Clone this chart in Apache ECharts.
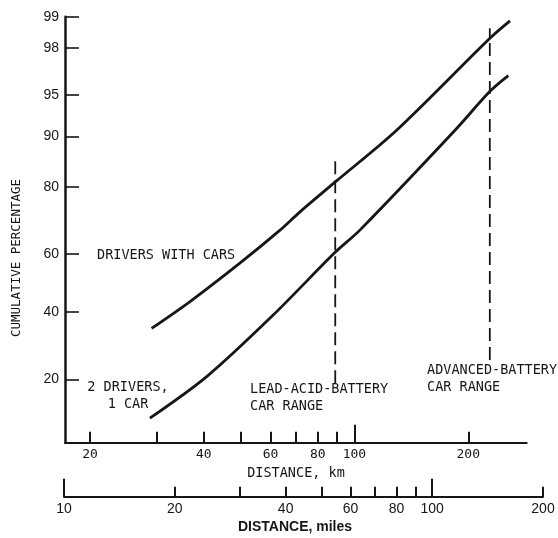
<!DOCTYPE html>
<html><head><meta charset="utf-8">
<script src="https://cdn.jsdelivr.net/npm/echarts@6/dist/echarts.min.js"></script>
<style>html,body{margin:0;padding:0;background:#fff}#c{width:558px;height:538px}</style>
</head><body><div id="c"></div><script>
// ---- data ----
const kmUpper = [29.1, 36.7, 49.8, 63.6, 71.8, 89.2, 129.3, 229.2, 257.8];
const pctUpper = [34.6, 43.5, 56.9, 67.8, 73.3, 81.2, 90.9, 98.4, 98.9];
const kmLower = [28.8, 40.7, 61.0, 88.8, 103.4, 184.5, 228.2, 255.2];
const pctLower = [11.9, 20.7, 39.0, 60.5, 67.8, 90.9, 95.3, 96.5];
const rangeKm = [89, 228];            // lead-acid, advanced battery car range
const rangeTopPct = [85.9, 98.7];
const rangeBottomPct = [19.1, 25.1];
const yTicks = [20, 40, 60, 80, 90, 95, 98, 99];
const kmTicks = [20, 30, 40, 50, 60, 70, 80, 90, 100, 200];
const kmLabels = [20, 40, 60, 80, 100, 200];
const kmMajor = [100];
const mileTicks = [10, 20, 30, 40, 50, 60, 70, 80, 90, 100, 200];
const mileLabels = [10, 20, 40, 60, 80, 100, 200];
const mileMajor = [10, 100];
const kmRange = [17.18, 285.4];
const mileRange = [10, 200];
const pctRange = [8.16, 99];

// ---- scales ----
function probit(p){
 const a=[-3.969683028665376e+01,2.209460984245205e+02,-2.759285104469687e+02,1.383577518672690e+02,-3.066479806614716e+01,2.506628277459239e+00];
 const b=[-5.447609879822406e+01,1.615858368580409e+02,-1.556989798598866e+02,6.680131188771972e+01,-1.328068155288572e+01];
 const c=[-7.784894002430293e-03,-3.223964580411365e-01,-2.400758277161838e+00,-2.549732539343734e+00,4.374664141464968e+00,2.938163982698783e+00];
 const d=[7.784695709041462e-03,3.224671290700398e-01,2.445134137142996e+00,3.754408661907416e+00];
 const pl=0.02425, ph=1-pl; let q,r;
 if(p<pl){q=Math.sqrt(-2*Math.log(p));return (((((c[0]*q+c[1])*q+c[2])*q+c[3])*q+c[4])*q+c[5])/((((d[0]*q+d[1])*q+d[2])*q+d[3])*q+1);}
 if(p>ph){q=Math.sqrt(-2*Math.log(1-p));return -(((((c[0]*q+c[1])*q+c[2])*q+c[3])*q+c[4])*q+c[5])/((((d[0]*q+d[1])*q+d[2])*q+d[3])*q+1);}
 q=p-0.5;r=q*q;return (((((a[0]*r+a[1])*r+a[2])*r+a[3])*r+a[4])*r+a[5])*q/(((((b[0]*r+b[1])*r+b[2])*r+b[3])*r+b[4])*r+1);
}
const Y = p => probit(p/100);
const L = v => Math.log10(v);
const yTickZ = yTicks.map(Y);
const pair = (xs, ps) => xs.map((x,i)=>[L(x), Y(ps[i])]);

const INK = '#161616';
const monoFont = '"DejaVu Sans Mono", "Liberation Mono", monospace';
const sansFont = '"Liberation Sans", Arial, sans-serif';

const chart = echarts.init(document.getElementById('c'), null, {renderer:'canvas'});
const ann = (text, x, y, align) => ({type:'text', x, y, style:{text, font:'13.5px '+monoFont, fill:INK, align:align||'left', textAlign:align||'left', verticalAlign:'middle', textVerticalAlign:'middle', lineHeight:17}});

chart.setOption({
 animation:false,
 backgroundColor:'#fff',
 grid:[
  {left:65, right:31.3, top:16.7, bottom:95.3},
  {left:64, right:15, top:486, bottom:41.3}
 ],
 xAxis:[
  {type:'value', gridIndex:0, min:L(kmRange[0]), max:L(kmRange[1]), position:'bottom',
   splitLine:{show:false},
   axisLine:{show:true, onZero:false, lineStyle:{color:INK, width:2}},
   axisTick:{show:true, inside:true, length:11, customValues:kmTicks.map(L), lineStyle:{color:INK, width:2}},
   axisLabel:{show:true, customValues:kmLabels.map(L), margin:5, color:INK, fontFamily:monoFont, fontSize:13,
     formatter:v=>String(Math.round(Math.pow(10,v)))}},
  {type:'value', gridIndex:0, min:L(kmRange[0]), max:L(kmRange[1]), position:'bottom',
   splitLine:{show:false}, axisLine:{show:false, onZero:false},
   axisTick:{show:true, inside:true, length:18, customValues:kmMajor.map(L), lineStyle:{color:INK, width:2}},
   axisLabel:{show:false}},
  {type:'value', gridIndex:1, min:L(mileRange[0]), max:L(mileRange[1]), position:'bottom',
   splitLine:{show:false},
   axisLine:{show:true, onZero:false, lineStyle:{color:INK, width:2}},
   axisTick:{show:true, inside:true, length:10, customValues:mileTicks.map(L), lineStyle:{color:INK, width:2}},
   axisLabel:{show:true, customValues:mileLabels.map(L), margin:5, color:INK, fontFamily:sansFont, fontSize:14,
     formatter:v=>String(Math.round(Math.pow(10,v)))}},
  {type:'value', gridIndex:1, min:L(mileRange[0]), max:L(mileRange[1]), position:'bottom',
   splitLine:{show:false}, axisLine:{show:false, onZero:false},
   axisTick:{show:true, inside:true, length:18, customValues:mileMajor.map(L), lineStyle:{color:INK, width:2}},
   axisLabel:{show:false}}
 ],
 yAxis:[
  {type:'value', gridIndex:0, min:Y(pctRange[0]), max:Y(pctRange[1]),
   splitLine:{show:false},
   axisLine:{show:true, onZero:false, lineStyle:{color:INK, width:2.5}},
   axisTick:{show:true, inside:true, length:14, customValues:yTickZ, lineStyle:{color:INK, width:1.6}},
   axisLabel:{show:true, customValues:yTickZ, margin:6, color:INK, fontFamily:sansFont, fontSize:14,
     formatter:v=>{let bi=0,bd=1e9; yTickZ.forEach((z,i)=>{const d=Math.abs(z-v); if(d<bd){bd=d;bi=i;}}); return String(yTicks[bi]);}}},
  {type:'value', gridIndex:1, min:0, max:1, show:false}
 ],
 series:[
  {type:'line', name:'DRIVERS WITH CARS', xAxisIndex:0, yAxisIndex:0, data:pair(kmUpper,pctUpper), smooth:0.3, showSymbol:false, symbol:'none', lineStyle:{color:INK, width:2.8}},
  {type:'line', name:'2 DRIVERS, 1 CAR', xAxisIndex:0, yAxisIndex:0, data:pair(kmLower,pctLower), smooth:0.3, showSymbol:false, symbol:'none', lineStyle:{color:INK, width:2.8}},
  ...rangeKm.map((k,i)=>({type:'line', xAxisIndex:0, yAxisIndex:0, symbol:'none', showSymbol:false,
     data:[[L(k), Y(rangeBottomPct[i])],[L(k), Y(rangeTopPct[i])]],
     lineStyle:{color:INK, width:1.8, type:[13,6]}}))
 ],
 graphic:[
  ann('DRIVERS WITH CARS', 97, 255),
  ann('2 DRIVERS,\n1 CAR', 128, 396, 'center'),
  ann('LEAD-ACID-BATTERY\nCAR RANGE', 250, 398),
  ann('ADVANCED-BATTERY\nCAR RANGE', 427, 379),
  {type:'text', x:296, y:473, style:{text:'DISTANCE, km', font:'13.5px '+monoFont, fill:INK, align:'center', textAlign:'center', verticalAlign:'middle', textVerticalAlign:'middle'}},
  {type:'text', x:295, y:527, style:{text:'DISTANCE, miles', font:'bold 14px '+sansFont, fill:INK, align:'center', textAlign:'center', verticalAlign:'middle', textVerticalAlign:'middle'}},
  {type:'text', x:17, y:258, rotation:Math.PI/2, style:{text:'CUMULATIVE PERCENTAGE', font:'12.5px '+monoFont, fill:INK, align:'center', textAlign:'center', verticalAlign:'middle', textVerticalAlign:'middle'}}
 ]
});
</script></body></html>
